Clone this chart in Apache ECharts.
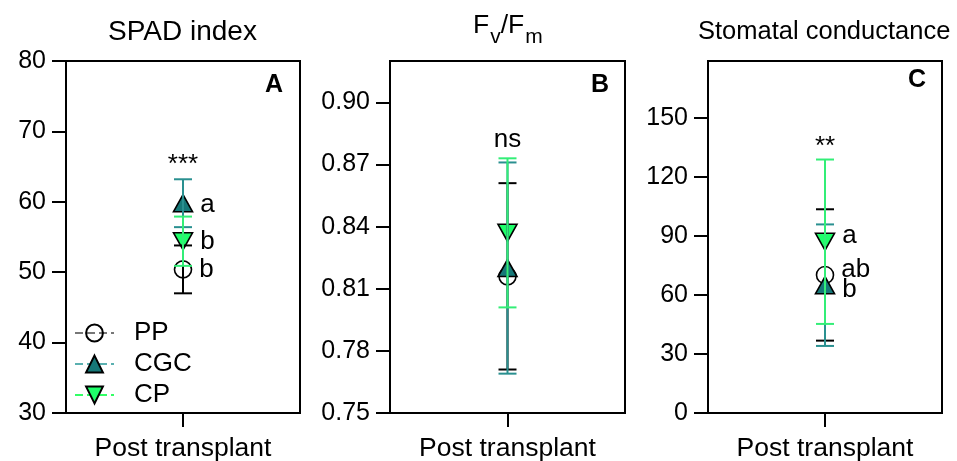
<!DOCTYPE html>
<html>
<head>
<meta charset="utf-8">
<script src="https://cdn.jsdelivr.net/npm/echarts@6/dist/echarts.min.js"></script>
<style>
  html, body { margin: 0; padding: 0; background: #fff; }
  #chart { width: 957px; height: 461px; }
</style>
</head>
<body>
<div id="chart"></div>
<script>
// categories / groups
const category = ['Post transplant'];
const groups = ['PP', 'CGC', 'CP'];

// A: SPAD index (mean, SD, letters)
const spadMean = [50.4, 59.8, 54.4];
const spadErr = [3.4, 3.4, 3.5];
const spadLetters = ['b', 'a', 'b'];

// B: Fv/Fm
const fvfmMean = [0.816, 0.820, 0.837];
const fvfmErr = [0.045, 0.051, 0.036];
const fvfmLetters = ['', '', ''];

// C: stomatal conductance
const gsMean = [70.2, 65.0, 87.1];
const gsErr = [33.4, 30.9, 41.8];
const gsLetters = ['ab', 'b', 'a'];

// significance marks above each panel
const sigText = ['***', 'ns', '**'];
const sigValue = [65.2, 0.882, 135.6];

// tick labels
const spadTicks = [30, 40, 50, 60, 70, 80];
const fvfmTicks = [0.75, 0.78, 0.81, 0.84, 0.87, 0.90];
const gsTicks = [0, 30, 60, 90, 120, 150];

const FONT = 'Liberation Sans, Arial, sans-serif';

// styles for each group
const markerStyle = [
  { symbol: 'circle', size: 17, rotate: 0, fill: 'rgba(0,0,0,0)', bar: '#000000', dash: '#777777' },
  { symbol: 'triangle', size: [19, 17], rotate: 0, fill: '#167878', bar: '#2a9090', dash: '#5ab0b0' },
  { symbol: 'triangle', size: [19, 17], rotate: 180, fill: '#1eff6a', bar: '#33ee77', dash: '#33ff66' }
];

const panels = [
  { mean: spadMean, err: spadErr, letters: spadLetters, ticks: spadTicks, min: 30, max: 80, dec: 0,
    offsets: [[0, 0], [0, 2], [0, 1]] },
  { mean: fvfmMean, err: fvfmErr, letters: fvfmLetters, ticks: fvfmTicks, min: 0.75, max: 0.92, dec: 2,
    offsets: [[0, 0], [0, 0], [0, 0]] },
  { mean: gsMean, err: gsErr, letters: gsLetters, ticks: gsTicks, min: 0, max: 179, dec: 0,
    offsets: [[0, -5], [0, 5], [0, -6]] }
];

const grids = [
  { left: 66, top: 61, width: 234, height: 352 },
  { left: 390, top: 61, width: 235, height: 352 },
  { left: 708, top: 61, width: 234, height: 352 }
].map(g => Object.assign(g, {
  show: true, borderColor: '#000', borderWidth: 2, backgroundColor: 'transparent',
  containLabel: false, outerBoundsMode: 'none'
}));

const xAxes = grids.map((g, i) => ({
  type: 'category', gridIndex: i, data: category,
  axisLine: { show: false },
  axisTick: { show: true, alignWithLabel: true, length: 14, lineStyle: { color: '#000', width: 2 } },
  axisLabel: { fontSize: 26.5, color: '#000', fontFamily: FONT, margin: 22 },
  splitLine: { show: false }
}));

const yAxes = panels.map((p, i) => ({
  type: 'value', gridIndex: i, min: p.min, max: p.max,
  axisLine: { show: false },
  axisTick: { show: true, length: 14, lineStyle: { color: '#000', width: 2 }, customValues: p.ticks },
  axisLabel: { fontSize: 25, color: '#000', fontFamily: FONT, margin: 20, customValues: p.ticks,
    formatter: v => v.toFixed(p.dec) },
  splitLine: { show: false }
}));

function errorBar(p, pi, gi) {
  const color = markerStyle[gi].bar;
  return {
    type: 'custom', name: groups[gi] + ' sd', xAxisIndex: pi, yAxisIndex: pi, z: 3,
    silent: true, animation: false,
    data: [[0, p.mean[gi], p.err[gi]]],
    encode: { x: 0, y: 1 },
    renderItem(params, api) {
      const x = api.value(0);
      const m = api.value(1);
      const e = api.value(2);
      const top = api.coord([x, m + e]);
      const bot = api.coord([x, m - e]);
      const hw = 9;
      const st = { stroke: color, lineWidth: 2 };
      return {
        type: 'group',
        children: [
          { type: 'line', shape: { x1: top[0], y1: top[1], x2: bot[0], y2: bot[1] }, style: st },
          { type: 'line', shape: { x1: top[0] - hw, y1: top[1], x2: top[0] + hw, y2: top[1] }, style: st },
          { type: 'line', shape: { x1: bot[0] - hw, y1: bot[1], x2: bot[0] + hw, y2: bot[1] }, style: st }
        ]
      };
    }
  };
}

function markerSeries(p, pi, gi) {
  const ms = markerStyle[gi];
  return {
    type: 'line', name: groups[gi], xAxisIndex: pi, yAxisIndex: pi, z: 2,
    silent: true, animation: false,
    data: [[0, p.mean[gi]]],
    symbol: ms.symbol, symbolSize: ms.size, symbolRotate: ms.rotate, showSymbol: true,
    itemStyle: { color: ms.fill, borderColor: '#000', borderWidth: 1.6 },
    lineStyle: { color: ms.dash, type: 'dashed', width: 1 },
    label: {
      show: !!p.letters[gi], position: 'right', distance: 7, offset: p.offsets[gi],
      formatter: p.letters[gi], fontSize: 26, color: '#000', fontFamily: FONT
    },
    emphasis: { disabled: true }
  };
}

const series = [];
panels.forEach((p, pi) => {
  groups.forEach((g, gi) => series.push(markerSeries(p, pi, gi)));
  groups.forEach((g, gi) => series.push(errorBar(p, pi, gi)));
  series.push({
    type: 'scatter', xAxisIndex: pi, yAxisIndex: pi, silent: true, animation: false,
    symbolSize: 0, data: [[0, sigValue[pi]]], z: 4,
    itemStyle: { opacity: 1, color: '#000' },
    label: { show: true, position: 'inside', formatter: sigText[pi], fontSize: 26,
      color: '#000', opacity: 1, textBorderWidth: 0, fontFamily: FONT }
  });
});

const titleFont = { color: '#000', fontFamily: FONT, fontWeight: 'normal' };
const titles = [
  { text: 'SPAD index', left: 108, top: 18, padding: 0, textStyle: Object.assign({ fontSize: 28 }, titleFont) },
  { text: '{a|F}{b|v}{a|/F}{b|m}', left: 473, top: 3, padding: 0,
    textStyle: Object.assign({
      rich: {
        a: { fontSize: 26.5, color: '#000', fontFamily: FONT },
        b: { fontSize: 21, color: '#000', fontFamily: FONT, padding: [24, 0, 0, 1] }
      }
    }, titleFont) },
  { text: 'Stomatal conductance', left: 698, top: 19, padding: 0, textStyle: Object.assign({ fontSize: 25.5 }, titleFont) },
  { text: 'A', left: 265, top: 73, padding: 0, textStyle: { fontSize: 25, fontWeight: 'bold', color: '#000', fontFamily: FONT } },
  { text: 'B', left: 591, top: 73, padding: 0, textStyle: { fontSize: 25, fontWeight: 'bold', color: '#000', fontFamily: FONT } },
  { text: 'C', left: 908, top: 68, padding: 0, textStyle: { fontSize: 25, fontWeight: 'bold', color: '#000', fontFamily: FONT } }
];

const chart = echarts.init(document.getElementById('chart'), null, { renderer: 'canvas' });
chart.setOption({
  backgroundColor: '#fff',
  animation: false,
  title: titles,
  grid: grids,
  xAxis: xAxes,
  yAxis: yAxes,
  legend: {
    data: groups, orient: 'vertical', left: 74, top: 320, padding: 0,
    itemWidth: 39, itemHeight: 21, itemGap: 5,
    textStyle: { fontSize: 26, color: '#000', fontFamily: FONT, padding: [0, 0, 0, 15] },
    selectedMode: false
  },
  series: series
});
</script>
</body>
</html>
